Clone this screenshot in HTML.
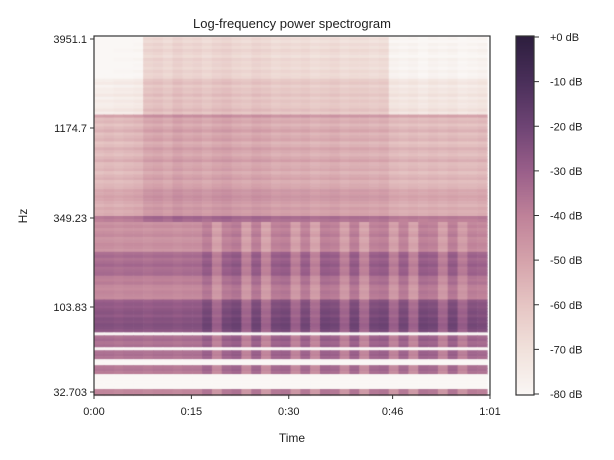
<!DOCTYPE html>
<html><head><meta charset="utf-8"><style>
body{margin:0;background:#fff;width:614px;height:460px;overflow:hidden;font-family:"Liberation Sans",sans-serif}
#wrap{position:relative;width:614px;height:460px}
canvas,svg{position:absolute;left:0;top:0}
</style></head><body>
<div id="wrap">
<canvas id="cv" width="614" height="460"></canvas>
<svg id="sv" width="614" height="460"></svg>
</div>
<script>
// dB level per frequency row (top -> bottom, 120 rows)
const rowDb = [
-68,-70,-67,-69,-66,-68,-70,-66,-68,-67,-69,-66,-68,-67,
-62,-60,-64,-61,-62,-59,-63,-60,-62,-61,-58,-62,
-46,
-54,-52,-56,-53,-50,-55,-53,-51,-56,-54,-50,-53,-55,-52,-49,-54,-53,-51,-55,-52,-50,-54,-52,-51,
-47,-48,-46,-47,
-49,-51,-48,-50,-49,
-34,-36,
-45,-43,-46,-44,-42,-46,-45,-43,-44,-46,
-35,-33,-36,-34,-32,-35,-34,-33,
-39,-40,-38,
-42,-43,-41,-42,-43,
-30,-28,-29,-27,-26,-28,-25,-26,-24,-25,-27,
-80,
-35,-33,-36,-34,
-80,
-35,-34,-36,
-80,-80,
-37,-36,-38,
-80,-80,-80,-80,-80,
-41,-41
];
// time offsets (40 columns): top rows, upper-mid rows, low rows
const topOff = [-14,-14,-13,-13,-12,2,3,1,4,2,3,1,3,4,2,1,3,2,0,1,0,1,-1,0,1,-1,0,0,-1,0,-10,-11,-10,-12,-10,-11,-10,-12,-11,-10];
const hiOff = [-4,-3,-4,-3,-2,2,3,1,4,2,3,1,3,4,2,1,3,2,0,1,0,1,-1,0,1,-1,0,0,-1,0,-3,-4,-3,-4,-3,-4,-3,-4,-4,-3];
const loOff = [0,0,-1,0,0,-1,0,0,-1,0,0,5,-5,4,6,-5,5,-6,4,5,-5,4,-6,5,4,-5,5,-6,4,5,-5,4,-6,5,4,-5,5,-4,3,2];
const yTickLabels = ["3951.1","1174.7","349.23","103.83","32.703"];
const yTickPos = [39,128,218,307,392];
const xTickLabels = ["0:00","0:15","0:30","0:46","1:01"];
const xTickSec = [0,15,30,46,61];
const cbLabels = ["+0 dB","-10 dB","-20 dB","-30 dB","-40 dB","-50 dB","-60 dB","-70 dB","-80 dB"];
const cbVals = [0,-10,-20,-30,-40,-50,-60,-70,-80];

const stops = [[45,30,62],[74,47,90],[110,68,116],[154,95,138],[191,130,153],[213,163,171],[230,198,196],[241,226,220],[250,247,245]];
function cmap(db){db=Math.max(-80,Math.min(0,db));const t=-db/10;const i=Math.min(7,Math.floor(t));const f=t-i;const a=stops[i],b=stops[i+1];
return `rgb(${Math.round(a[0]+(b[0]-a[0])*f)},${Math.round(a[1]+(b[1]-a[1])*f)},${Math.round(a[2]+(b[2]-a[2])*f)})`;}

const PL=94,PR=490,PT=37,PB=395,DataR=487;
const xs=s=>PL+(PR-PL)*s/61;
const cv=document.getElementById('cv'),ctx=cv.getContext('2d');
const rh=(PB-PT)/rowDb.length, cw=(DataR-PL)/hiOff.length;
rowDb.forEach((d,r)=>{
  hiOff.forEach((h,c)=>{
    const off = r<26 ? topOff[c] : (r<62 ? h : loOff[c]);
    ctx.fillStyle=cmap(d<=-80?-80:d+off);
    ctx.fillRect(PL+c*cw,PT+r*rh,cw+0.6,rh+0.6);
  });
});
// colorbar
const CL=516,CR=534,CT=36,CB=395;
for(let y=CT;y<CB;y++){ctx.fillStyle=cmap(-80*(y-CT)/(CB-CT));ctx.fillRect(CL,y,CR-CL,1.2);}

const NS='http://www.w3.org/2000/svg',sv=document.getElementById('sv');
function mk(tag,attrs,txt){const e=document.createElementNS(NS,tag);for(const k in attrs)e.setAttribute(k,attrs[k]);if(txt!==undefined)e.textContent=txt;sv.appendChild(e);return e;}
let e;
e=mk('rect',{x:PL,y:PT-1,width:PR-PL,height:PB-PT+1,fill:'none',stroke:'#333',"stroke-width":1.2});


e=mk('rect',{x:CL,y:CT,width:CR-CL,height:CB-CT,fill:'none',stroke:'#333',"stroke-width":1.2});


yTickLabels.forEach((l,i)=>{const y=yTickPos[i];
  e=mk('line',{x1:PL-4,x2:PL,y1:y,y2:y,stroke:'#333'});
  
  
  e=mk('text',{x:PL-7,y:y+4,"text-anchor":'end',"font-size":11,fill:'#222'},l);
  
  
});
xTickLabels.forEach((l,i)=>{const x=xs(xTickSec[i]);
  e=mk('line',{x1:x,x2:x,y1:PB,y2:PB+4,stroke:'#333'});
  
  
  e=mk('text',{x:x,y:415,"text-anchor":'middle',"font-size":11,fill:'#222'},l);
  
  
});
cbLabels.forEach((l,i)=>{const y=CT+1+(CB-CT-2)*(-cbVals[i])/80;
  e=mk('line',{x1:CR,x2:CR+5,y1:y,y2:y,stroke:'#333'});
  
  
  e=mk('text',{x:CR+16,y:y+4,"font-size":11,fill:'#222'},l);
  
  
});
e=mk('text',{x:292,y:28,"text-anchor":'middle',"font-size":13,fill:'#222'},'Log-frequency power spectrogram');


e=mk('text',{x:292,y:442,"text-anchor":'middle',"font-size":12,fill:'#222'},'Time');


e=mk('text',{x:27,y:216,"text-anchor":'middle',"font-size":12,fill:'#222',transform:'rotate(-90 27 216)'},'Hz');


</script>
</body></html>
